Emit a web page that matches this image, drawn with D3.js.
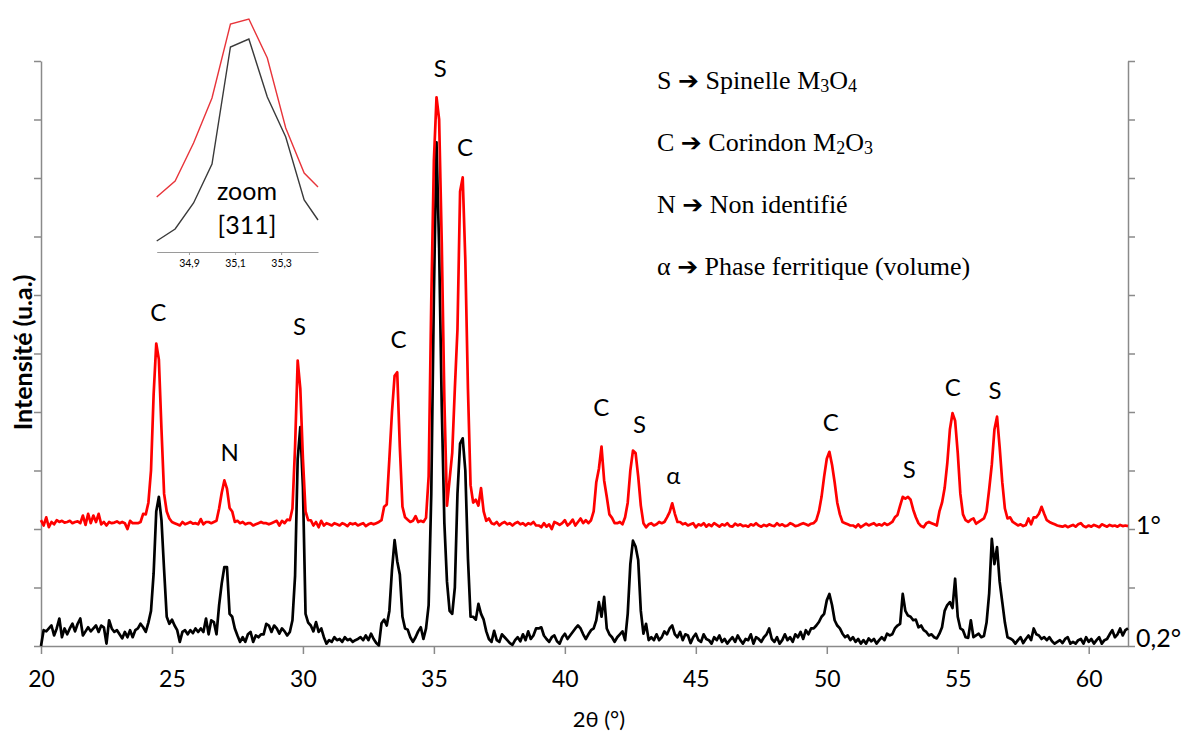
<!DOCTYPE html>
<html>
<head>
<meta charset="utf-8">
<script src="https://cdn.jsdelivr.net/npm/d3@7"></script>
<style>
  body { margin: 0; background: #fff; }
  svg text { font-family: Lato, "Open Sans", sans-serif; fill: #000; }
  .legend text { font-family: "Liberation Serif", "Times New Roman", serif; }
  .arrow { font-family: "DejaVu Sans", sans-serif; font-weight: bold; }
</style>
</head>
<body>
<svg id="chart"></svg>
<script>
// scan: 20.0 -> 61.5 deg, 0.1 deg step
const thetaStart = 20, thetaStep = 0.1;

// incidence 0,2 deg (black)
const intensity02 = [
  0.0,0.27,0.25,0.3,0.35,0.18,0.3,0.47,0.15,0.3,
  0.2,0.3,0.38,0.25,0.38,0.47,0.18,0.25,0.32,0.25,
  0.3,0.35,0.24,0.35,0.32,0.04,0.44,0.3,0.24,0.27,
  0.2,0.13,0.24,0.15,0.27,0.15,0.27,0.3,0.38,0.32,
  0.24,0.4,0.6,1.24,2.3,2.55,2.15,1.3,0.5,0.38,
  0.45,0.35,0.27,0.07,0.24,0.27,0.2,0.27,0.22,0.3,
  0.24,0.3,0.24,0.47,0.2,0.44,0.41,0.2,0.7,1.07,
  1.35,1.35,0.55,0.5,0.3,0.18,0.07,0.15,0.07,0.2,
  0.24,0.07,0.18,0.15,0.2,0.2,0.38,0.35,0.24,0.35,
  0.3,0.21,0.3,0.25,0.18,0.24,0.44,1.2,3.2,3.74,
  2.72,0.55,0.4,0.35,0.25,0.41,0.24,0.3,0.15,0.04,
  0.1,0.07,0.15,0.1,0.12,0.07,0.15,0.1,0.12,0.07,
  0.1,0.12,0.15,0.1,0.18,0.1,0.21,0.12,0.05,0.01,
  0.39,0.45,0.35,0.6,1.3,1.81,1.45,1.22,0.5,0.3,
  0.28,0.15,0.07,0.15,0.25,0.32,0.12,0.3,0.7,2.6,
  6.0,8.61,6.8,4.1,2.1,1.1,0.6,0.55,1.0,2.6,
  3.46,3.55,3.0,1.5,0.5,0.5,0.45,0.72,0.55,0.45,
  0.25,0.12,0.07,0.26,0.1,0.07,0.2,0.15,0.1,0.05,
  0.02,0.1,0.15,0.08,0.2,0.1,0.25,0.12,0.18,0.3,
  0.3,0.32,0.18,0.12,0.07,0.15,0.18,0.08,0.04,0.15,
  0.21,0.12,0.18,0.24,0.3,0.35,0.3,0.2,0.12,0.2,
  0.27,0.3,0.44,0.75,0.5,0.84,0.3,0.2,0.15,0.07,
  0.15,0.2,0.25,0.1,0.55,1.4,1.8,1.7,1.47,0.6,
  0.21,0.38,0.1,0.15,0.1,0.2,0.1,0.15,0.25,0.2,
  0.3,0.35,0.2,0.15,0.24,0.1,0.2,0.18,0.05,0.15,
  0.21,0.1,0.07,0.2,0.12,0.1,0.04,0.15,0.1,0.18,
  0.07,0.12,0.04,0.1,0.15,0.07,0.18,0.1,0.04,0.12,
  0.1,0.2,0.04,0.15,0.12,0.07,0.15,0.2,0.3,0.12,
  0.07,0.15,0.04,0.1,0.2,0.1,0.15,0.07,0.2,0.15,
  0.24,0.12,0.27,0.2,0.3,0.3,0.35,0.41,0.5,0.55,
  0.78,0.89,0.7,0.44,0.35,0.3,0.21,0.15,0.18,0.1,
  0.15,0.07,0.12,0.04,0.1,0.04,0.13,0.08,0.12,0.04,
  0.1,0.15,0.1,0.21,0.18,0.2,0.3,0.35,0.38,0.89,
  0.6,0.52,0.5,0.44,0.45,0.32,0.35,0.27,0.24,0.18,
  0.2,0.15,0.13,0.21,0.32,0.6,0.7,0.75,0.65,1.15,
  0.5,0.3,0.27,0.15,0.14,0.44,0.15,0.18,0.21,0.15,
  0.17,0.4,0.9,1.83,1.4,1.69,1.1,0.75,0.4,0.15,
  0.13,0.1,0.04,0.1,0.15,0.05,0.12,0.18,0.1,0.3,
  0.2,0.18,0.12,0.15,0.1,0.15,0.08,0.04,0.07,0.1,
  0.05,0.12,0.15,0.04,0.07,0.04,0.1,0.12,0.04,0.15,
  0.07,0.12,0.04,0.1,0.15,0.04,0.1,0.12,0.2,0.27,
  0.15,0.2,0.3,0.18,0.27,0.3
];

// incidence 1 deg (red)
const intensity1 = [
  2.15,2.06,2.2,2.03,2.12,2.08,2.15,2.12,2.14,2.11,
  2.12,2.14,2.1,2.12,2.13,2.1,2.23,2.07,2.26,2.1,
  2.23,2.12,2.26,2.08,2.12,2.06,2.12,2.1,2.11,2.13,
  2.1,2.12,2.1,2.0,2.14,2.1,2.1,2.1,2.12,2.26,
  2.25,2.45,3.0,4.3,5.17,4.9,3.7,2.6,2.3,2.18,
  2.12,2.1,2.08,2.06,2.12,2.08,2.1,2.12,2.09,2.1,
  2.08,2.17,2.08,2.12,2.12,2.1,2.12,2.14,2.35,2.62,
  2.83,2.69,2.36,2.3,2.12,2.14,2.1,2.12,2.08,2.1,
  2.1,2.06,2.08,2.1,2.12,2.1,2.1,2.08,2.1,2.12,
  2.14,2.06,2.14,2.1,2.16,2.15,2.35,3.4,4.88,4.4,
  3.2,2.3,2.15,2.15,2.06,2.12,2.03,2.14,2.06,2.1,
  2.08,2.06,2.1,2.08,2.06,2.1,2.08,2.05,2.1,2.08,
  2.1,2.06,2.08,2.1,2.05,2.08,2.1,2.08,2.1,2.12,
  2.15,2.38,2.42,3.2,4.0,4.62,4.68,3.4,2.38,2.2,
  2.16,2.12,2.14,2.22,2.12,2.14,2.12,2.19,2.9,5.9,
  8.3,9.38,9.0,6.9,4.2,2.4,2.85,3.3,4.4,5.41,
  7.77,8.01,6.6,4.4,2.75,2.45,2.5,2.4,2.7,2.3,
  2.14,2.18,2.1,2.08,2.12,2.06,2.1,2.12,2.08,2.1,
  2.06,2.1,2.12,2.08,2.1,2.06,2.1,2.08,2.12,2.06,
  2.06,2.03,2.1,2.04,2.08,2.0,2.12,2.1,2.07,2.1,
  2.15,2.06,2.1,2.16,2.06,2.12,2.18,2.1,2.15,2.1,
  2.15,2.3,2.8,3.03,3.41,2.83,2.55,2.25,2.19,2.1,
  2.1,2.12,2.08,2.2,2.45,3.0,3.34,3.3,2.9,2.4,
  2.1,2.03,2.08,2.1,2.06,2.08,2.12,2.1,2.12,2.2,
  2.29,2.44,2.26,2.12,2.12,2.08,2.1,2.06,2.08,2.1,
  2.03,2.08,2.06,2.1,2.04,2.08,2.05,2.1,2.07,2.04,
  2.08,2.06,2.1,2.05,2.04,2.09,2.06,2.08,2.05,2.06,
  2.04,2.08,2.06,2.1,2.06,2.04,2.07,2.05,2.08,2.06,
  2.05,2.1,2.06,2.08,2.05,2.06,2.1,2.08,2.05,2.06,
  2.08,2.1,2.08,2.06,2.09,2.1,2.15,2.3,2.55,2.9,
  3.2,3.32,3.1,2.8,2.45,2.25,2.12,2.1,2.08,2.06,
  2.06,2.03,2.08,2.03,2.06,2.09,2.06,2.08,2.1,2.06,
  2.08,2.06,2.1,2.07,2.09,2.12,2.2,2.24,2.4,2.55,
  2.52,2.55,2.5,2.33,2.2,2.1,2.05,2.03,2.1,2.12,
  2.1,2.08,2.06,2.3,2.45,2.7,3.12,3.7,3.98,3.85,
  3.3,2.6,2.25,2.15,2.12,2.16,2.18,2.09,2.12,2.15,
  2.18,2.3,2.68,3.1,3.7,3.92,3.4,2.8,2.35,2.18,
  2.2,2.12,2.09,2.06,2.08,2.05,2.07,2.18,2.08,2.2,
  2.2,2.26,2.38,2.26,2.15,2.12,2.1,2.08,2.06,2.05,
  2.04,2.06,2.03,2.05,2.07,2.04,2.08,2.1,2.05,2.03,
  2.06,2.04,2.07,2.05,2.03,2.08,2.06,2.04,2.07,2.05,
  2.06,2.04,2.07,2.05,2.06,2.05
];

const xTicks = [20, 25, 30, 35, 40, 45, 50, 55, 60];
const yTicks = [0, 1, 2, 3, 4, 5, 6, 7, 8, 9, 10];

// phase labels: letter, 2theta, intensity level
const peakLabels = ['C', 'N', 'S', 'C', 'S', 'C', 'C', 'S', 'α', 'C', 'S', 'C', 'S'];
const peakTheta  = [24.48, 27.2, 29.87, 33.65, 35.24, 36.19, 41.39, 42.85, 44.14, 50.15, 53.15, 54.81, 56.42];
const peakLevel  = [5.72, 3.32, 5.48, 5.25, 9.89, 8.54, 4.09, 3.8, 2.93, 3.83, 3.03, 4.43, 4.38];

const seriesNames = ['1°', '0,2°'];
const seriesLevel = [2.08, 0.15];

// zoom on the [311] peak
const zoomTheta = [34.76, 34.84, 34.92, 35.0, 35.08, 35.16, 35.24, 35.32, 35.40, 35.46];
const zoomRed   = [55, 71, 109, 154, 228, 233, 194, 124, 79, 65];
const zoomBlack = [11, 23, 49, 88, 205, 213, 155, 115, 52, 32];
const zoomTicks = [34.9, 35.1, 35.3];

const legendKeys = ['S', 'C', 'N', 'α'];
const legendNames = [
  [['Spinelle M', 0], ['3', 1], ['O', 0], ['4', 1]],
  [['Corindon M', 0], ['2', 1], ['O', 0], ['3', 1]],
  [['Non identifié', 0]],
  [['Phase ferritique (volume)', 0]]
];

class XrdChart {

  constructor(_config) {
    this.config = {
      parentElement: _config.parentElement,
      containerWidth: _config.containerWidth || 1185,
      containerHeight: _config.containerHeight || 731,
      margin: {top: 61, right: 57, bottom: 85, left: 41}
    };
    this.initVis();
  }

  initVis() {
    let vis = this;
    vis.width = vis.config.containerWidth - vis.config.margin.left - vis.config.margin.right;
    vis.height = vis.config.containerHeight - vis.config.margin.top - vis.config.margin.bottom;

    vis.svg = d3.select(vis.config.parentElement)
      .attr('width', vis.config.containerWidth)
      .attr('height', vis.config.containerHeight);

    vis.chart = vis.svg.append('g')
      .attr('transform', `translate(${vis.config.margin.left},${vis.config.margin.top})`);

    vis.xScale = d3.scaleLinear().domain([20, 61.5]).range([0, vis.width]);
    vis.yScale = d3.scaleLinear().domain([0, 10]).range([vis.height, 0]);

    vis.black = intensity02.map((v, i) => [thetaStart + i * thetaStep, v]);
    vis.red = intensity1.map((v, i) => [thetaStart + i * thetaStep, v]);

    vis.renderVis();
  }

  renderVis() {
    let vis = this;
    const axisColor = '#8a8a8a';

    // x axis
    vis.chart.append('g')
      .attr('transform', `translate(0,${vis.height})`)
      .call(d3.axisBottom(vis.xScale).tickValues(xTicks).tickSize(8).tickSizeOuter(0).tickPadding(17))
      .call(g => g.selectAll('line, path').attr('stroke', axisColor).attr('stroke-width', 1.5))
      .call(g => g.selectAll('text').attr('font-size', 23).attr('fill', '#000')
        .style('font-family', 'Lato, sans-serif'));

    // left and right y axes, no labels
    vis.chart.append('g')
      .call(d3.axisLeft(vis.yScale).tickValues(yTicks).tickSize(7).tickSizeOuter(0).tickFormat(''))
      .call(g => g.selectAll('line, path').attr('stroke', axisColor).attr('stroke-width', 1.5));
    vis.chart.append('g')
      .attr('transform', `translate(${vis.width},0)`)
      .call(d3.axisRight(vis.yScale).tickValues(yTicks).tickSize(7).tickSizeOuter(0).tickFormat(''))
      .call(g => g.selectAll('line, path').attr('stroke', axisColor).attr('stroke-width', 1.5));

    const line = d3.line()
      .x(d => vis.xScale(d[0]))
      .y(d => vis.yScale(d[1]));

    vis.chart.append('path')
      .datum(vis.black)
      .attr('fill', 'none')
      .attr('stroke', '#000')
      .attr('stroke-width', 2.7)
      .attr('stroke-linejoin', 'round')
      .attr('d', line);

    vis.chart.append('path')
      .datum(vis.red)
      .attr('fill', 'none')
      .attr('stroke', '#ff0000')
      .attr('stroke-width', 2.7)
      .attr('stroke-linejoin', 'round')
      .attr('d', line);

    // phase letters
    vis.chart.selectAll('.peak-label')
      .data(peakLabels)
      .join('text')
      .attr('class', 'peak-label')
      .attr('x', (d, i) => vis.xScale(peakTheta[i]))
      .attr('y', (d, i) => vis.yScale(peakLevel[i]))
      .attr('text-anchor', 'middle')
      .attr('dominant-baseline', 'central')
      .attr('font-size', 24)
      .text(d => d);

    // series names on the right
    vis.chart.selectAll('.series-label')
      .data(seriesNames)
      .join('text')
      .attr('class', 'series-label')
      .attr('x', vis.width + 8)
      .attr('y', (d, i) => vis.yScale(seriesLevel[i]))
      .attr('dominant-baseline', 'central')
      .attr('font-size', 25)
      .text(d => d);

    // axis titles
    vis.svg.append('text')
      .attr('x', vis.config.margin.left + vis.xScale(41.3))
      .attr('y', 718)
      .attr('text-anchor', 'middle')
      .attr('dominant-baseline', 'central')
      .attr('font-size', 22)
      .text('2θ (°)');

    vis.svg.append('text')
      .attr('transform', `translate(22,${vis.config.margin.top + vis.yScale(5.02)}) rotate(-90)`)
      .attr('text-anchor', 'middle')
      .attr('dominant-baseline', 'central')
      .attr('font-size', 25)
      .attr('font-weight', 'bold')
      .text('Intensité (u.a.)');

    // legend
    const legend = vis.svg.append('g').attr('class', 'legend');
    legendKeys.forEach((k, i) => {
      const t = legend.append('text')
        .attr('x', 657)
        .attr('y', 89 + i * 62)
        .attr('font-size', 26);
      t.append('tspan').text(k + ' ');
      t.append('tspan').attr('class', 'arrow').attr('font-size', 25).text('➔');
      t.append('tspan').text(' ');
      legendNames[i].forEach(p => {
        t.append('tspan')
          .attr('font-size', p[1] ? 18 : 26)
          .attr('dy', p[1] ? 3 : (t.node().childNodes.length > 4 ? -3 : 0))
          .text(p[0]);
      });
    });

    vis.renderZoom();
  }

  renderZoom() {
    let vis = this;
    const zx = d3.scaleLinear().domain([34.76, 35.46]).range([156.7, 318]);
    const zy = d3.scaleLinear().domain([0, 250]).range([252, 2]);
    const g = vis.svg.append('g').attr('class', 'zoom');

    g.append('g')
      .attr('transform', 'translate(0,252)')
      .call(d3.axisBottom(zx).tickValues(zoomTicks).tickSize(3).tickSizeOuter(0).tickPadding(5)
        .tickFormat(d => d3.format('.1f')(d).replace('.', ',')))
      .call(a => a.selectAll('line, path').attr('stroke', '#9a9a9a').attr('stroke-width', 1))
      .call(a => a.selectAll('text').attr('font-size', 10.5).attr('fill', '#333')
        .style('font-family', 'Lato, sans-serif'));

    const zline = d3.line().x((d, i) => zx(zoomTheta[i])).y(d => zy(d));
    g.append('path').datum(zoomRed)
      .attr('fill', 'none').attr('stroke', '#e8343a').attr('stroke-width', 1.4).attr('d', zline);
    g.append('path').datum(zoomBlack)
      .attr('fill', 'none').attr('stroke', '#3a3a3a').attr('stroke-width', 1.4).attr('d', zline);

    g.selectAll('.zoom-title')
      .data(['zoom', '[311]'])
      .join('text')
      .attr('class', 'zoom-title')
      .attr('x', 247)
      .attr('y', (d, i) => 190 + i * 34)
      .attr('text-anchor', 'middle')
      .attr('dominant-baseline', 'central')
      .attr('font-size', 25)
      .text(d => d);
  }
}

new XrdChart({parentElement: '#chart'});
</script>
</body>
</html>
